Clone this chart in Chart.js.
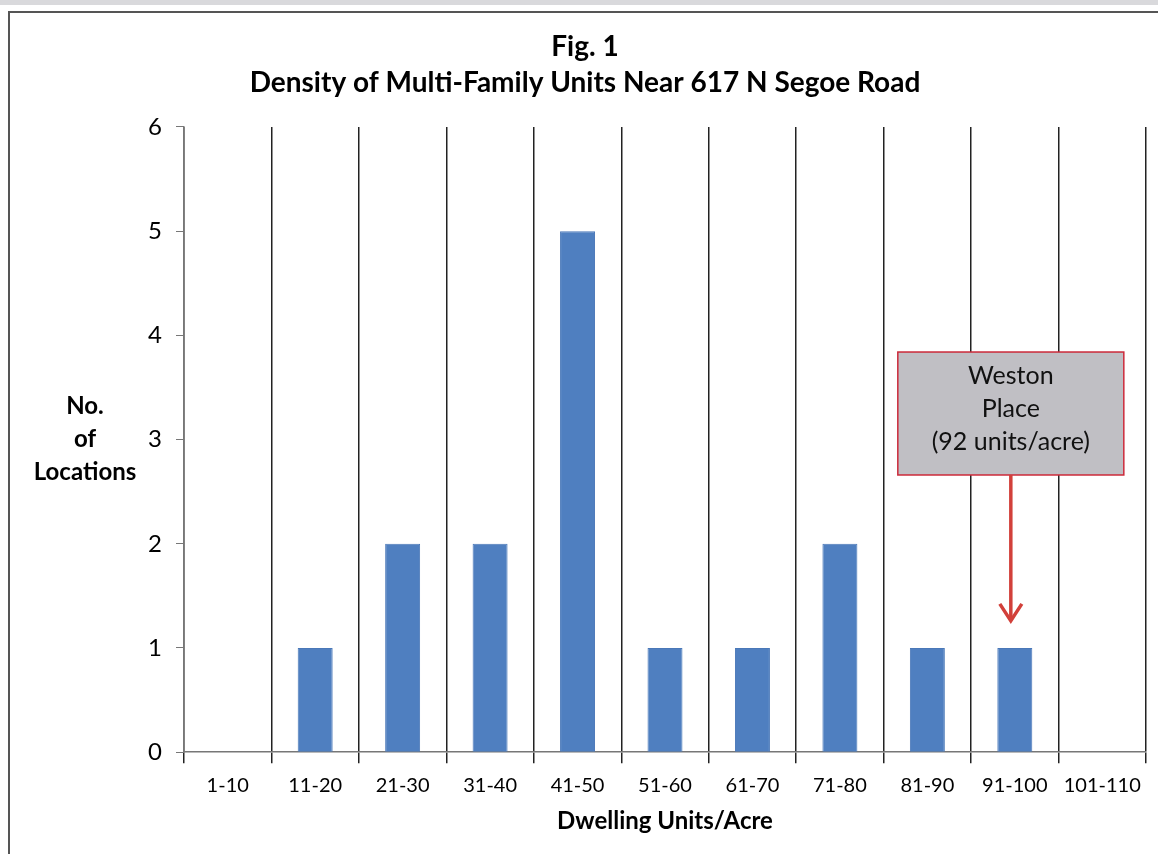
<!DOCTYPE html>
<html>
<head>
<meta charset="utf-8">
<title>Fig. 1</title>
<script src="https://cdn.jsdelivr.net/npm/chart.js@4.4.1/dist/chart.umd.min.js"></script>
<style>
    html, body { margin: 0; padding: 0; background: #fff; }
    #wrap { position: relative; width: 1158px; height: 854px; overflow: hidden; }
    #frame { position: absolute; left: 8px; top: 11px; right: -10px; bottom: -10px;
             border-left: 2px solid #555; border-top: 2px solid #555; }
    #scan { position: absolute; left: 0; top: 0; width: 1158px; height: 5px; background: #d9d9dc; }
    canvas { position: absolute; left: 0; top: 0; }
</style>
</head>
<body>
<div id="wrap">
    <div id="scan"></div>
    <div id="frame"></div>
    <canvas id="barChart" width="1158" height="854"></canvas>
</div>
<script>
var categories = ['1-10', '11-20', '21-30', '31-40', '41-50', '51-60', '61-70', '71-80', '81-90', '91-100', '101-110'];
var locations = [0, 1, 2, 2, 5, 1, 1, 2, 1, 1, 0];
var yTicks = [0, 1, 2, 3, 4, 5, 6];

var calloutIndex = 9;
var calloutLines = ['Weston', 'Place', '(92 units/acre)'];
var yTitleLines = ['No.', 'of', 'Locations'];

var fontFamily = 'Lato, "Open Sans", sans-serif';

var calloutPlugin = {
    id: 'callout',
    afterDatasetsDraw: function (chart) {
        'use strict';

        var ctx = chart.ctx;
        var x = chart.scales.x;
        var y = chart.scales.y;
        var cx = x.getPixelForValue(calloutIndex) - 4;
        var top = y.getPixelForValue(3.84);
        var bottom = y.getPixelForValue(2.66);
        var tip = y.getPixelForValue(1.26);
        var half = 113;

        ctx.save();
        ctx.fillStyle = '#c0bfc4';
        ctx.fillRect(cx - half, top, half * 2, bottom - top);
        ctx.strokeStyle = '#cc2a3a';
        ctx.lineWidth = 1.5;
        ctx.strokeRect(cx - half, top, half * 2, bottom - top);

        ctx.fillStyle = '#111';
        ctx.font = '25px ' + fontFamily;
        ctx.textAlign = 'center';
        ctx.textBaseline = 'middle';
        for (var i = 0; i < calloutLines.length; i++) {
            ctx.fillText(calloutLines[i], cx, top + 24 + i * 33);
        }

        // arrow
        ctx.strokeStyle = '#d2403a';
        ctx.lineWidth = 3.5;
        ctx.beginPath();
        ctx.moveTo(cx, bottom);
        ctx.lineTo(cx, tip - 2);
        ctx.stroke();
        ctx.beginPath();
        ctx.moveTo(cx - 11, tip - 17);
        ctx.lineTo(cx, tip);
        ctx.lineTo(cx + 11, tip - 17);
        ctx.stroke();

        // y axis title, horizontal
        ctx.fillStyle = '#000';
        ctx.font = 'bold 24px ' + fontFamily;
        var mid = y.getPixelForValue(3);
        for (var j = 0; j < yTitleLines.length; j++) {
            ctx.fillText(yTitleLines[j], chart.chartArea.left - 99, mid + (j - 1) * 33);
        }
        ctx.restore();
    }
};

var ctx = document.getElementById('barChart').getContext('2d');
var barChart = new Chart(ctx, {
    type: 'bar',
    data: {
        labels: categories,
        datasets: [{
            data: locations,
            backgroundColor: '#4f7fc0',
            borderColor: '#4a78b8',
            borderWidth: 1,
            barPercentage: 0.4,
            categoryPercentage: 1.0
        }]
    },
    options: {
        responsive: false,
        animation: false,
        devicePixelRatio: 1,
        layout: {
            padding: { left: 24, right: 12, top: 0, bottom: 14 }
        },
        plugins: {
            legend: { display: false },
            tooltip: { enabled: false },
            title: {
                display: true,
                text: ['Fig. 1', 'Density of Multi-Family Units Near 617 N Segoe Road'],
                color: '#000',
                font: { family: fontFamily, size: 28, weight: 'bold', lineHeight: 1.32 },
                padding: { top: 28, bottom: 25 }
            }
        },
        scales: {
            x: {
                offset: true,
                grid: {
                    offset: true,
                    drawOnChartArea: true,
                    color: '#222',
                    lineWidth: 1.5,
                    tickLength: 11
                },
                border: { color: '#777', width: 1.5 },
                ticks: {
                    color: '#000',
                    padding: 10,
                    font: { family: fontFamily, size: 20 }
                },
                title: {
                    display: true,
                    text: 'Dwelling Units/Acre',
                    color: '#000',
                    font: { family: fontFamily, size: 24, weight: 'bold' },
                    padding: { top: 0, bottom: 4 }
                }
            },
            y: {
                min: 0,
                max: 6,
                afterBuildTicks: function (scale) {
                    scale.ticks = yTicks.map(function (v) { return { value: v }; });
                },
                afterFit: function (scale) {
                    scale.width = 160;
                },
                grid: {
                    drawOnChartArea: false,
                    color: '#777',
                    tickLength: 8
                },
                border: { color: '#777', width: 1.5 },
                ticks: {
                    color: '#000',
                    padding: 14,
                    font: { family: fontFamily, size: 24 }
                }
            }
        }
    },
    plugins: [calloutPlugin]
});
</script>
</body>
</html>
